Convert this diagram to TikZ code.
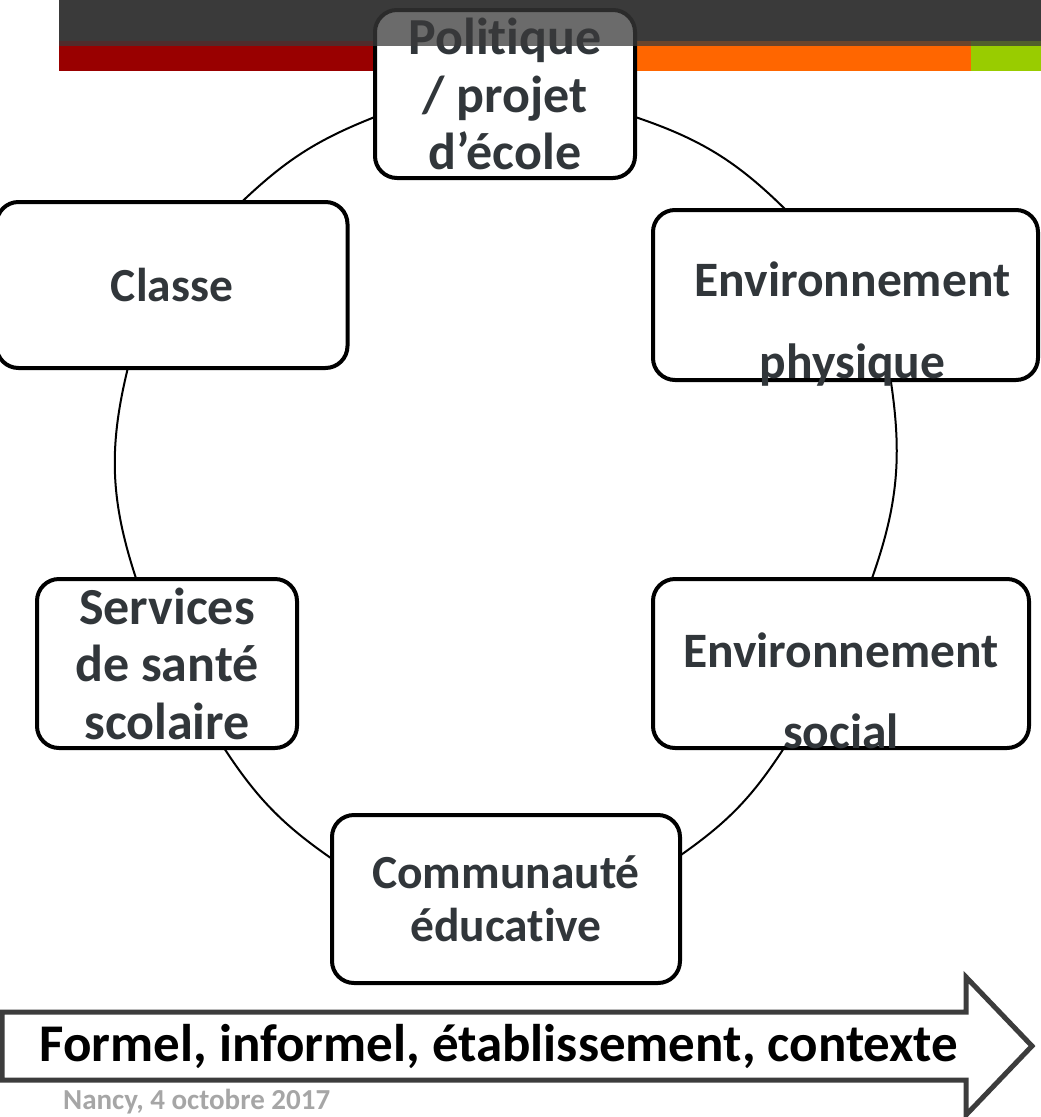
\documentclass[tikz,border=0pt]{standalone}
\usepackage{fontspec}
\setmainfont{Carlito}[Ligatures={NoCommon}]
\definecolor{barc}{HTML}{3A3A3A}
\definecolor{redc}{HTML}{990000}
\definecolor{orangec}{HTML}{FF6600}
\definecolor{greenc}{HTML}{99CC00}
\definecolor{boxtext}{RGB}{49,54,58}
\definecolor{arrowc}{HTML}{3C3C3C}
\definecolor{nancyc}{HTML}{A6A6A6}
\begin{document}
\begin{tikzpicture}[x=1pt,y=-1pt,
  box/.style={draw=black, line width=4pt, rounded corners=22pt, fill=white,
              inner sep=0pt, outer sep=0pt, text=boxtext, align=center},
  big/.style={font=\bfseries\fontsize{52}{57.5}\selectfont},
  mid/.style={font=\bfseries\fontsize{47.5}{53}\selectfont},
  lbl/.style={text=boxtext, align=center, inner sep=0pt},
  conn/.style={line width=2pt, draw=black},
]
\useasboundingbox (0,0) rectangle (1041,1117);
% top banner
\fill[barc] (59,0) rectangle (1041,41);
\fill[redc] (59,41) rectangle (505,71);
\fill[orangec] (505,41) rectangle (971,71);
\fill[greenc] (971,41) rectangle (1041,71);

% boxes
\node[box, big, minimum width=260, minimum height=168] (pol) at (505,94) {Politique\\/ projet\\d’école};
\node[box, mid, minimum width=351, minimum height=166] (classe) at (172,285) {Classe};
\node[box, minimum width=385, minimum height=170] (envp) at (845.5,295) {};
\node[box, big, minimum width=260, minimum height=169] (serv) at (167,663.5) {Services\\de santé\\scolaire};
\node[box, minimum width=376, minimum height=169] (envs) at (841,663.5) {};
\node[box, mid, minimum width=348, minimum height=168] (comm) at (506,899) {Communauté\\éducative};

% connectors
\draw[conn] (pol.350) to[bend left=13] (envp.125);
\draw[conn] (envp.298) to[bend left=14] (envs.70);
\draw[conn] (envs.236) to[bend left=11] (comm.14);
\draw[conn] (comm.167) to[bend left=11] (serv.304);
\draw[conn] (serv.110) to[bend left=16] (classe.242);
\draw[conn] (classe.50) to[bend left=11] (pol.190);

% offset texts of the two environment boxes
\node[lbl, font=\bfseries\fontsize{49.5}{82}\selectfont] (envptxt) at ([xshift=7pt,yshift=-29pt]envp.center) {Environnement\\physique};
\node[lbl, font=\bfseries\fontsize{49.5}{81}\selectfont] (envstxt) at ([xshift=0pt,yshift=-27pt]envs.center) {Environnement\\social};

% translucent top overlay
\fill[barc, opacity=0.75] (59,0) rectangle (1041,46);

% bottom arrow
\draw[line width=5pt, draw=arrowc, fill=white, line join=miter]
  (2,1012) -- (966,1012) -- (966,977) -- (1032,1046) -- (966,1115) -- (966,1080) -- (2,1080) -- cycle;
\node[font=\bfseries\fontsize{53}{60}\selectfont, text=black, inner sep=0pt] (arrtxt) at (499,1046) {Formel, informel, établissement, contexte};

\node[anchor=base west, text=nancyc, font=\bfseries\fontsize{29}{34}\selectfont, inner sep=0pt] (date) at (63,1109) {Nancy, 4 octobre 2017};
\end{tikzpicture}
\end{document}
